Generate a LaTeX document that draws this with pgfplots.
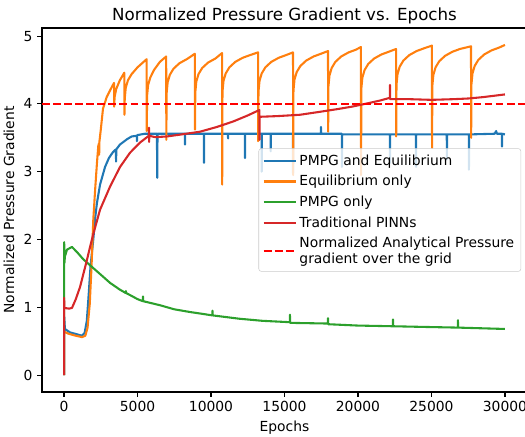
\documentclass[border=0pt]{standalone}
\usepackage{fontspec}
\setmainfont{DejaVu Sans}
\usepackage{pgfplots}
\pgfplotsset{compat=1.18}
\definecolor{tblue}{HTML}{1F77B4}
\definecolor{torange}{HTML}{FF7F0E}
\definecolor{tgreen}{HTML}{2CA02C}
\definecolor{tred}{HTML}{D62728}
\begin{document}
\begin{tikzpicture}
\begin{axis}[
  name=ax,
  scale only axis,
  width=363.75pt, height=273pt,
  xmin=-1500, xmax=31500, ymin=-0.25, ymax=5.12,
  xtick={0,5000,10000,15000,20000,25000,30000},
  ytick={0,1,2,3,4,5},
  scaled x ticks=false,
  /pgf/number format/1000 sep={},
  /pgf/number format/assume math mode=true,
  tick align=outside, xtick pos=bottom, ytick pos=left,
  major tick length=3.65pt,
  tick style={black, line width=0.83pt},
  axis line style={line width=0.83pt},
  tick label style={font=\fontsize{10.4}{12.5}\selectfont},
  label style={font=\fontsize{10.4}{12.5}\selectfont},
  title style={font=\fontsize{12.5}{15}\selectfont, anchor=base, at={(0.5,1)}, yshift=-0.5pt},
  title={Normalized Pressure Gradient vs. Epochs},
  xlabel={Epochs}, ylabel={Normalized Pressure Gradient},
  legend cell align=left,
  legend style={at={(0.988,0.5)}, anchor=east, font=\fontsize{10.4}{11.7}\selectfont,
    draw=black!20, fill=white, fill opacity=0.8, text opacity=1, rounded corners=2pt,
    row sep=2.1pt, inner ysep=2.5pt,
    cells={align=left}},
  legend image code/.code={\draw[#1] (0pt,0pt) -- (21pt,0pt); \path (0pt,0pt) -- (24pt,0pt);},
  every axis plot/.append style={line width=1.56pt, line join=round},
]
\addplot[tblue] coordinates {(0,0) (10,0.86) (60,0.68) (400,0.63) (900,0.60) (1220,0.58) (1400,0.62) (1550,0.80) (1680,1.20) (1800,1.60) (1990,2.00) (2120,2.32) (2240,2.54) (2450,2.81) (2790,3.07) (3050,3.20) (3330,3.29) (3530,3.33) (3540,3.15) (3560,3.33) (3800,3.40) (4290,3.48) (4600,3.52) (4950,3.53) (4960,3.45) (4980,3.54) (5500,3.56) (6320,3.56) (6340,2.91) (6360,3.56) (8220,3.56) (8230,3.40) (8240,3.56) (9510,3.56) (9520,3.13) (9530,3.56) (11150,3.56) (11160,3.49) (11170,3.56) (12300,3.56) (12310,3.20) (12320,3.56) (13440,3.56) (13450,3.00) (13460,3.56) (14050,3.56) (14060,3.30) (14070,3.56) (15570,3.56) (15580,2.98) (15590,3.56) (17470,3.56) (17480,3.66) (17490,3.56) (18900,3.56) (18910,3.07) (18920,3.55) (22170,3.55) (22180,3.13) (22190,3.55) (23940,3.55) (23950,3.07) (23960,3.55) (26040,3.55) (26050,3.18) (26060,3.55) (27540,3.55) (27550,3.03) (27560,3.55) (29300,3.56) (29400,3.60) (29450,3.56) (29790,3.56) (29800,3.37) (29810,3.56) (30000,3.55)};
\addlegendentry{PMPG and Equilibrium}
\addplot[torange] coordinates {(0,0) (10,0.64) (300,0.61) (800,0.58) (1220,0.56) (1450,0.58) (1600,0.70) (1750,1.05) (1870,1.60) (1990,2.29) (2120,2.75) (2240,3.13) (2330,3.38) (2380,3.42) (2390,3.25) (2410,3.45) (2500,3.62) (2650,3.93) (2900,4.10) (3130,4.20) (3400,4.31) (3410,3.96) (3440,4.10) (3550,4.22) (3800,4.35) (4100,4.46) (4110,3.84) (4130,4.08) (4200,4.24) (4350,4.35) (4600,4.44) (5000,4.54) (5620,4.66) (5630,3.60) (5650,4.12) (5720,4.28) (5870,4.39) (6120,4.50) (6520,4.62) (6950,4.70) (6960,3.47) (6980,4.16) (7050,4.32) (7200,4.43) (7450,4.52) (7850,4.60) (8350,4.66) (8900,4.74) (8910,3.62) (8930,4.17) (9000,4.33) (9150,4.44) (9400,4.53) (9800,4.61) (10300,4.67) (10750,4.75) (10760,2.81) (10780,4.18) (10850,4.34) (11000,4.45) (11250,4.54) (11650,4.62) (12150,4.68) (12650,4.72) (13200,4.76) (13210,3.45) (13230,4.18) (13300,4.34) (13450,4.45) (13700,4.54) (14100,4.62) (14600,4.68) (15100,4.72) (15580,4.76) (15590,2.95) (15610,4.20) (15680,4.36) (15830,4.47) (16080,4.56) (16480,4.64) (16980,4.70) (17480,4.74) (17960,4.78) (17970,3.59) (17990,4.26) (18060,4.42) (18210,4.53) (18460,4.62) (18860,4.70) (19360,4.76) (19860,4.80) (20200,4.84) (20210,2.95) (20230,4.23) (20300,4.39) (20450,4.50) (20700,4.59) (21100,4.67) (21600,4.73) (22100,4.77) (22590,4.81) (22600,3.52) (22620,4.28) (22690,4.44) (22840,4.55) (23090,4.64) (23490,4.72) (23990,4.78) (24490,4.82) (25030,4.86) (25040,3.35) (25060,4.27) (25130,4.43) (25280,4.54) (25530,4.63) (25930,4.71) (26430,4.77) (26930,4.81) (27690,4.85) (27700,3.50) (27720,4.29) (27790,4.45) (27940,4.56) (28190,4.65) (28590,4.73) (29090,4.79) (29590,4.83) (30000,4.87)};
\addlegendentry{Equilibrium only}
\addplot[tgreen] coordinates {(0,0) (10,1.96) (25,1.65) (60,1.75) (200,1.85) (540,1.89) (900,1.81) (1300,1.71) (1770,1.62) (2400,1.50) (3130,1.36) (3800,1.26) (4200,1.21) (4210,1.24) (4220,1.21) (4490,1.18) (5000,1.12) (5360,1.09) (5370,1.16) (5380,1.09) (6530,1.03) (7500,0.97) (8570,0.93) (9500,0.90) (10090,0.88) (10100,0.95) (10110,0.88) (11970,0.83) (13500,0.80) (15360,0.78) (15370,0.89) (15380,0.77) (17950,0.76) (17960,0.84) (17970,0.75) (20000,0.73) (22370,0.72) (22380,0.82) (22390,0.72) (24500,0.71) (26790,0.70) (26800,0.81) (26810,0.70) (30000,0.68)};
\addlegendentry{PMPG only}
\addplot[tred] coordinates {(0,0) (8,1.14) (20,0.99) (340,0.98) (540,0.99) (800,1.12) (1090,1.30) (1560,1.70) (1770,1.89) (1990,2.08) (2450,2.44) (3130,2.78) (3810,3.07) (4490,3.28) (5170,3.43) (5770,3.53) (5780,3.65) (5790,3.44) (5800,3.53) (6200,3.51) (7000,3.52) (8000,3.55) (9250,3.59) (10400,3.66) (11500,3.74) (12500,3.83) (13290,3.91) (13300,3.47) (13310,3.81) (14500,3.82) (16050,3.84) (17300,3.88) (18500,3.92) (19600,3.96) (20680,4.01) (21500,4.05) (22170,4.09) (22180,4.28) (22190,4.07) (23500,4.07) (25000,4.06) (26500,4.07) (27500,4.08) (28500,4.10) (30000,4.14)};
\addlegendentry{Traditional PINNs}
\addplot[red, dash pattern=on 5.8pt off 2.5pt] coordinates {(-1500,4) (31500,4)};
\addlegendentry{Normalized Analytical Pressure\\gradient over the grid}
\end{axis}
\pgfresetboundingbox
\path[use as bounding box] ([xshift=-31.5pt,yshift=-33pt]ax.south west) rectangle ([xshift=-1.5pt,yshift=21pt]ax.north east);
\end{tikzpicture}
\end{document}
